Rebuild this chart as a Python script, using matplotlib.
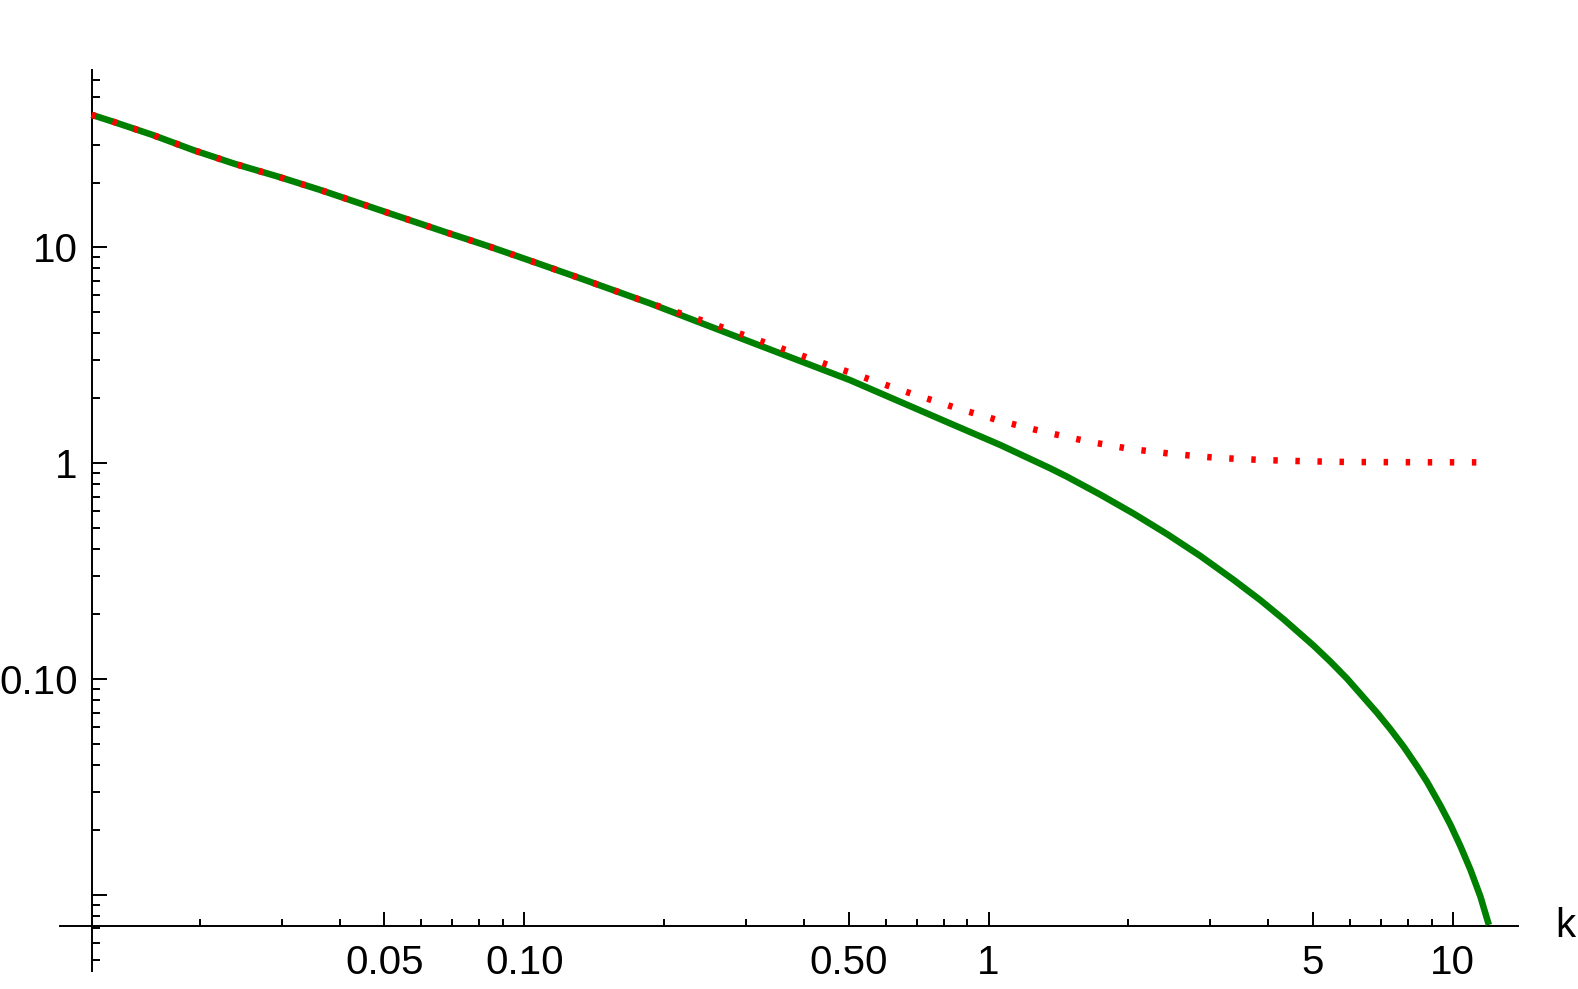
import matplotlib
matplotlib.use("Agg")
import matplotlib.pyplot as plt
import matplotlib.transforms as mtransforms

# curva verde (solida)
k_verde = [0.0117, 0.0130, 0.01585, 0.01935, 0.0238, 0.0295, 0.0363, 0.0447,
           0.0549, 0.0675, 0.0830, 0.102, 0.132, 0.1866, 0.306, 0.503, 0.827,
           1.06, 1.358, 1.476, 1.741, 2.053, 2.424, 2.86, 3.37, 3.85, 4.32,
           5.01, 5.45, 5.92, 6.87, 7.34, 7.84, 8.38, 8.81, 9.41, 9.89,
           10.39, 10.92, 11.47, 11.96]
v_verde = [41.2, 38.3, 33.2, 28.3, 24.4, 21.3, 18.5, 15.9,
           13.7, 11.8, 10.2, 8.75, 7.20, 5.51, 3.66, 2.43, 1.53,
           1.216, 0.948, 0.867, 0.716, 0.585, 0.470, 0.372, 0.2887, 0.2323, 0.1895,
           0.1432, 0.1205, 0.1005, 0.0698, 0.0586, 0.0486, 0.0394, 0.0333, 0.0259, 0.0211,
           0.0168, 0.01306, 0.00982, 0.00726]

# curva roja (punteada)
k_rojo = [0.0117, 0.0130, 0.01585, 0.01935, 0.0238, 0.0295, 0.0363, 0.0447,
          0.0549, 0.0675, 0.0830, 0.102, 0.132, 0.1866, 0.2555, 0.4266, 0.640,
          0.869, 1.074, 1.314, 1.642, 2.02, 2.50, 3.10, 3.88, 4.81, 5.97,
          8.24, 12.0]
v_rojo = [41.2, 38.3, 33.2, 28.3, 24.4, 21.3, 18.5, 15.9,
          13.7, 11.8, 10.2, 8.75, 7.20, 5.51, 4.41, 2.98, 2.20,
          1.78, 1.56, 1.40, 1.26, 1.165, 1.104, 1.06, 1.036, 1.022, 1.014,
          1.011, 1.01]

x_ticks = [0.05, 0.1, 0.5, 1, 5, 10]
x_labels = ["0.05", "0.10", "0.50", "1", "5", "10"]
x_minor = [0.02, 0.03, 0.04, 0.06, 0.07, 0.08, 0.09,
           0.2, 0.3, 0.4, 0.6, 0.7, 0.8, 0.9,
           2, 3, 4, 6, 7, 8, 9]
y_ticks = [0.01, 0.1, 1, 10]
y_labels = ["", "0.10", "1", "10"]
y_minor = [0.005, 0.006, 0.007, 0.008, 0.009,
           0.02, 0.03, 0.04, 0.05, 0.06, 0.07, 0.08, 0.09,
           0.2, 0.3, 0.4, 0.5, 0.6, 0.7, 0.8, 0.9,
           2, 3, 4, 5, 6, 7, 8, 9, 20, 30, 40, 50, 60]

plt.rcParams['font.family'] = ['Liberation Sans', 'DejaVu Sans']

fig = plt.figure(figsize=(15.78, 9.89), dpi=100)
ax = fig.add_axes([0.03802, 0.0185, 0.92377, 0.91072])
ax.set_xscale('log')
ax.set_yscale('log')
ax.set_xlim(0.01, 13.8)
ax.set_ylim(0.004454, 66.45)

ax.plot(k_verde, v_verde, color='#008000', lw=4.7, solid_capstyle='butt',
        solid_joinstyle='round', zorder=3)
ax.plot(k_rojo, v_rojo, color='#ff0000', lw=4.7, linestyle=(0, (0.68, 2.7)),
        dash_capstyle='butt', zorder=4)

ax.spines['top'].set_visible(False)
ax.spines['right'].set_visible(False)
ax.spines['left'].set_position(('data', 0.0117))
ax.spines['bottom'].set_position(('data', 0.00721))
for s in ['left', 'bottom']:
    ax.spines[s].set_linewidth(1.4)

ax.set_xticks(x_ticks, x_labels)
ax.set_xticks(x_minor, minor=True)
ax.set_yticks(y_ticks, y_labels)
ax.set_yticks(y_minor, minor=True)
ax.xaxis.set_minor_formatter(matplotlib.ticker.NullFormatter())
ax.yaxis.set_minor_formatter(matplotlib.ticker.NullFormatter())

ax.tick_params(axis='x', which='major', direction='in', length=10.4, width=1.4,
               labelsize=29, pad=13)
ax.tick_params(axis='x', which='minor', direction='in', length=4.8, width=1.4)
ax.tick_params(axis='y', which='major', direction='in', length=10.8, width=1.4,
               labelsize=29, pad=10)
ax.tick_params(axis='y', which='minor', direction='in', length=5.8, width=1.4)

trans = mtransforms.blended_transform_factory(ax.transAxes, ax.transData)
ax.annotate("k", xy=(1.0, 0.00721), xycoords=trans, xytext=(27, 0),
            textcoords='offset points', ha='left', va='center', fontsize=29)

fig.savefig("out.png", dpi=100)
